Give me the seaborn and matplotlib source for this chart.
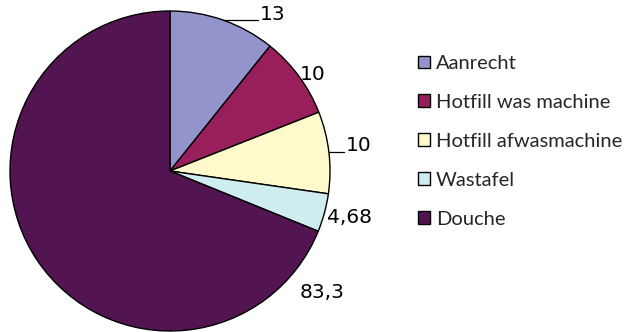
import numpy as np
import matplotlib
matplotlib.use("Agg")
import matplotlib.pyplot as plt
from matplotlib.patches import Patch
import seaborn as sns

categories = ["Aanrecht", "Hotfill was machine", "Hotfill afwasmachine", "Wastafel", "Douche"]
values = [13, 10, 10, 4.68, 83.3]
colors = ["#9494CC", "#991F5C", "#FFFACC", "#CFEDF0", "#531552"]

sns.set_style("white")
plt.rcParams["font.family"] = ["DejaVu Sans"]

fig = plt.figure(figsize=(6.28, 3.32), dpi=100)
W, H = 628, 332
ax = fig.add_axes([10 / W, 1 / H, 320 / W, 320 / H])

wedges, _ = ax.pie(values, colors=colors, startangle=90, counterclock=False,
                   wedgeprops=dict(edgecolor="black", linewidth=1.0))
for w in wedges:
    w.set_clip_on(False)
ax.set_xlim(-1, 1)
ax.set_ylim(-1, 1)
ax.set_aspect("equal")
ax.axis("off")

FS = 14.5
digit_w = 0.636 * FS * 100 / 72 / 160  # digit width in pie units

# value labels (x, y in pie units) and whether a leader line is drawn
label_pos = [(0.64, 0.975), (0.89, 0.60), (1.18, 0.16), (1.12, -0.29), (0.95, -0.76)]
leader = [True, False, True, False, False]

for w, v, (lx, ly), lead in zip(wedges, values, label_pos, leader):
    txt = f"{v:g}".replace(".", ",")
    ax.text(lx, ly, txt, ha="center", va="center", fontsize=FS, color="black")
    if lead:
        ang = np.deg2rad((w.theta1 + w.theta2) / 2)
        ex, ey = np.cos(ang), np.sin(ang)
        x_end = lx - digit_w * len(txt) / 2 - 0.01
        ax.plot([ex, x_end], [ey, ey], color="black", lw=0.9, clip_on=False)

handles = [Patch(facecolor=c, edgecolor="black", linewidth=1.0) for c in colors]
leg = fig.legend(handles, categories, loc="upper left",
                 bbox_to_anchor=(418 / W, 1 - 55 / H), frameon=False,
                 prop={"family": "Lato", "size": 14.5},
                 handlelength=0.6, handleheight=0.6, handletextpad=0.3,
                 labelspacing=1.09, borderaxespad=0, borderpad=0)

fig.savefig("out.png", dpi=100)
